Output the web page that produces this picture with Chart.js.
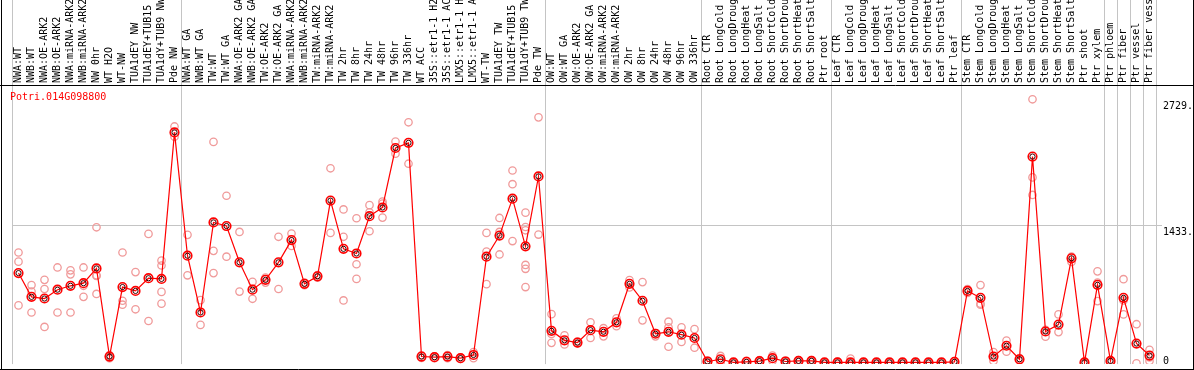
<!DOCTYPE html>
<html>
<head>
<meta charset="utf-8">
<script src="https://cdn.jsdelivr.net/npm/chart.js@4.4.1/dist/chart.umd.min.js"></script>
<style>
    html, body { margin: 0; padding: 0; background: #fff; }
    #wrap { width: 1194px; height: 370px; position: relative; }
</style>
</head>
<body>
<div id="wrap"><canvas id="expressionChart"></canvas></div>
<script>
const geneName = 'Potri.014G098800';

const categories = [
    'NWA:WT', 'NWB:WT', 'NWA:OE-ARK2', 'NWB:OE-ARK2', 'NWA:miRNA-ARK2', 'NWB:miRNA-ARK2', 'NW 0hr',
    'WT H2O', 'WT-NW', 'TUA1dEY NW', 'TUA1dEY+TUB15 NW', 'TUA1dY+TUB9 NW', 'Pde NW',
    'NWA:WT GA', 'NWB:WT GA', 'TW:WT', 'TW:WT GA', 'NWA:OE-ARK2 GA', 'NWB:OE-ARK2 GA', 'TW:OE-ARK2',
    'TW:OE-ARK2 GA', 'NWA:miRNA-ARK2 GA', 'NWB:miRNA-ARK2 GA', 'TW:miRNA-ARK2', 'TW:miRNA-ARK2 GA',
    'TW 2hr', 'TW 8hr', 'TW 24hr', 'TW 48hr', 'TW 96hr', 'TW 336hr', 'WT ACC',
    '35S::etr1-1 H2O', '35S::etr1-1 ACC', 'LMX5::etr1-1 H2O', 'LMX5::etr1-1 ACC', 'WT-TW',
    'TUA1dEY TW', 'TUA1dEY+TUB15 TW', 'TUA1dY+TUB9 TW', 'Pde TW',
    'OW:WT', 'OW:WT GA', 'OW:OE-ARK2', 'OW:OE-ARK2 GA', 'OW:miRNA-ARK2', 'OW:miRNA-ARK2 GA',
    'OW 2hr', 'OW 8hr', 'OW 24hr', 'OW 48hr', 'OW 96hr', 'OW 336hr',
    'Root CTR', 'Root LongCold', 'Root LongDrought', 'Root LongHeat', 'Root LongSalt',
    'Root ShortCold', 'Root ShortDrought', 'Root ShortHeat', 'Root ShortSalt', 'Ptr root',
    'Leaf CTR', 'Leaf LongCold', 'Leaf LongDrought', 'Leaf LongHeat', 'Leaf LongSalt',
    'Leaf ShortCold', 'Leaf ShortDrought', 'Leaf ShortHeat', 'Leaf ShortSalt', 'Ptr leaf',
    'Stem CTR', 'Stem LongCold', 'Stem LongDrought', 'Stem LongHeat', 'Stem LongSalt',
    'Stem ShortCold', 'Stem ShortDrought', 'Stem ShortHeat', 'Stem ShortSalt', 'Ptr shoot', 'Ptr xylem',
    'Ptr phloem', 'Ptr fiber', 'Ptr vessel', 'Ptr fiber vessel'
];

// first category of each sample group (grey separators), plus the right edge
const groupEdges = [0, 13, 41, 53, 63, 73, 84, 85, 86, 87, 88];

const means = [
    938, 693, 676, 767, 807, 834, 986, 78, 794, 754, 885, 878, 2388,
    1117, 532, 1460, 1423, 1049, 767, 868, 1049, 1278, 827, 905, 1685, 1188, 1140,
    1524, 1614, 2227, 2280, 78, 71, 78, 61, 94, 1107, 1325, 1705, 1214, 1934,
    343, 245, 222, 350, 333, 431, 827, 653, 313, 333, 303, 269,
    27, 50, 17, 23, 30, 61, 27, 33, 33, 17,
    17, 17, 17, 17, 17, 17, 17, 17, 17, 23,
    754, 683, 78, 189, 50, 2139, 336, 407, 1090, 17, 817,
    33, 683, 212, 88
];

const replicates = [
    [1150, 1056, 605], [814, 747, 532], [868, 774, 383], [996, 532], [966, 925, 532],
    [996, 807, 693], [1410, 915, 908, 723], [94, 78, 61], [1150, 653, 612], [948, 565],
    [1342, 444], [1067, 1016, 744, 623], [2449, 2344],
    [1332, 915], [659, 404], [2290, 1167, 938], [1735, 1107], [1362, 747], [848, 673],
    [891, 840], [1312, 774], [1345, 1218], [840, 814], [918, 891], [2018, 1352],
    [1594, 1312, 656], [1503, 1029, 878], [1638, 1564, 1369], [1675, 1655, 1510],
    [2293, 2169], [2492, 2065], [91, 64], [81, 61], [94, 61], [68, 53], [124, 61],
    [1352, 1160, 824], [1506, 1362, 1130], [1995, 1854, 1268],
    [1561, 1413, 1379, 1022, 982, 794], [2543, 1335],
    [515, 310, 219], [296, 202], [232, 212], [431, 269], [370, 286], [471, 390],
    [865, 790], [845, 451], [320, 286], [437, 380, 179], [380, 229], [360, 169],
    [37, 17], [84, 17], [17, 10], [33, 13], [40, 20], [88, 33], [37, 17], [40, 27], [40, 27], [17, 10],
    [25, 10], [57, 12], [20, 10], [15, 8], [18, 10], [15, 8], [20, 10], [15, 10], [18, 8], [30, 13],
    [774, 734], [814, 623, 612], [124, 33], [242, 128], [61, 40], [2729, 1924, 1743],
    [353, 283], [512, 330], [1107, 1052], [17, 10], [956, 840, 649],
    [40, 27], [875, 656, 512], [411, 7], [148, 68, 33]
];

const yTickValues = [0, 1433, 2729];
const yTickLabels = ['0', '1433.', '2729.'];
const yGridValues = [1433];
const yMax = 2866;

// replicate points go on a hidden linear axis that lines up with the category slots
const replicatePoints = [];
replicates.forEach(function(reps, i) {
    reps.forEach(function(v) {
        replicatePoints.push({ x: i, y: v });
    });
});

const monoFont = '"DejaVu Sans Mono", monospace';

const framePlugin = {
    id: 'frame',
    afterDraw: function(chart) {
        const ctx = chart.ctx;
        const area = chart.chartArea;
        const w = chart.width;
        const h = chart.height;
        ctx.save();
        ctx.strokeStyle = '#000';
        ctx.lineWidth = 1;
        ctx.beginPath();
        ctx.moveTo(0, area.top - 0.5);
        ctx.lineTo(w, area.top - 0.5);
        ctx.moveTo(0, h - 0.5);
        ctx.lineTo(w, h - 0.5);
        ctx.moveTo(1.5, 0);
        ctx.lineTo(1.5, h);
        ctx.moveTo(w - 0.5, 0);
        ctx.lineTo(w - 0.5, h);
        ctx.stroke();

        ctx.font = '10px ' + monoFont;
        ctx.fillStyle = '#ff0000';
        ctx.textBaseline = 'middle';
        ctx.fillText(geneName, 10, area.top + 11);

        // value labels on the right, hung just below their value
        const yScale = chart.scales.y;
        ctx.fillStyle = '#000';
        yTickValues.forEach(function(v, i) {
            let py = yScale.getPixelForValue(v) + 2;
            ctx.textBaseline = 'top';
            if (py + 10 > h - 4) {
                py = h - 4;
                ctx.textBaseline = 'bottom';
            }
            ctx.fillText(yTickLabels[i], area.right + 7, py);
        });
        ctx.restore();
    }
};

document.addEventListener('DOMContentLoaded', function() {
    const chartCtx = document.getElementById('expressionChart');
    new Chart(chartCtx, {
        type: 'line',
        data: {
            labels: categories,
            datasets: [{
                label: 'mean core',
                data: means,
                showLine: false,
                pointRadius: 2.6,
                pointBorderWidth: 1,
                pointBorderColor: '#300000',
                pointBackgroundColor: 'rgba(0,0,0,0)'
            }, {
                label: geneName,
                data: means,
                borderColor: '#ff0000',
                borderWidth: 1.2,
                tension: 0,
                pointRadius: 4.3,
                pointBorderWidth: 1.6,
                pointBorderColor: '#ff0000',
                pointBackgroundColor: 'rgba(0,0,0,0)'
            }, {
                label: 'replicates',
                data: replicatePoints,
                xAxisID: 'xr',
                showLine: false,
                pointRadius: 3.7,
                pointBorderWidth: 1.3,
                pointBorderColor: '#f09a9a',
                pointBackgroundColor: 'rgba(0,0,0,0)'
            }]
        },
        options: {
            responsive: true,
            maintainAspectRatio: false,
            devicePixelRatio: 1,
            animation: false,
            layout: {
                padding: { left: 12, right: 0, top: 0, bottom: 0 }
            },
            plugins: {
                legend: { display: false },
                tooltip: { enabled: false }
            },
            scales: {
                x: {
                    type: 'category',
                    position: 'top',
                    offset: true,
                    border: { display: false },
                    grid: {
                        offset: true,
                        lineWidth: 1,
                        tickLength: 86,
                        color: function(c) {
                            const idx = c.index === undefined ? categories.length : c.index;
                            return groupEdges.includes(idx) ? '#c4c4c4' : 'rgba(0,0,0,0)';
                        }
                    },
                    ticks: {
                        autoSkip: false,
                        minRotation: 90,
                        maxRotation: 90,
                        padding: -83,
                        labelOffset: 12,
                        color: '#000',
                        font: { family: monoFont, size: 10 }
                    },
                    afterFit: function(scale) {
                        scale.height = 86;
                        scale.paddingLeft = 0;
                        scale.paddingRight = 0;
                    }
                },
                xr: {
                    type: 'linear',
                    display: false,
                    min: -0.5,
                    max: categories.length - 0.5
                },
                y: {
                    position: 'right',
                    min: 0,
                    max: yMax,
                    border: { display: false },
                    grid: {
                        tickLength: 6,
                        color: function(c) {
                            return c.tick && yGridValues.includes(c.tick.value) ? '#c4c4c4' : 'rgba(0,0,0,0)';
                        }
                    },
                    ticks: { display: false },
                    afterBuildTicks: function(scale) {
                        scale.ticks = yTickValues.map(function(v) { return { value: v }; });
                    },
                    afterFit: function(scale) {
                        scale.width = 38;
                    }
                }
            }
        },
        plugins: [framePlugin]
    });
});
</script>
</body>
</html>
